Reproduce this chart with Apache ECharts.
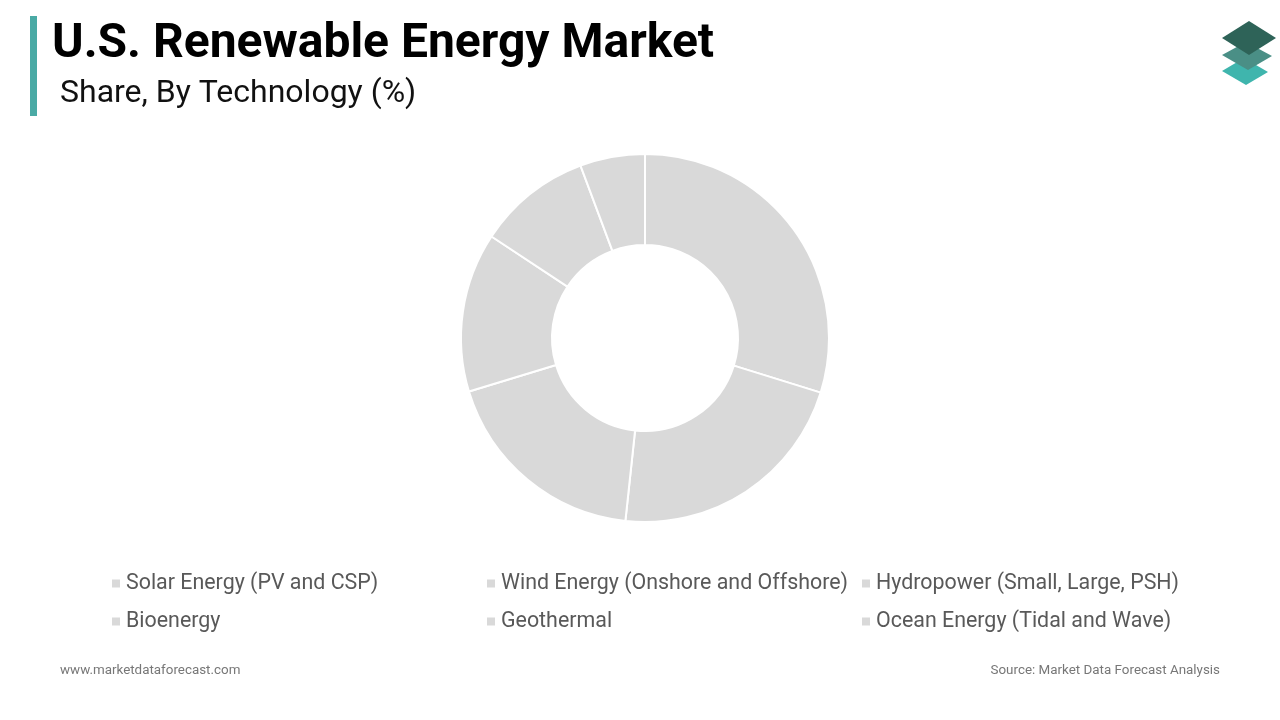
<!DOCTYPE html>
<html>
<head>
<meta charset="utf-8">
<script src="https://cdn.jsdelivr.net/npm/echarts@6/dist/echarts.min.js"></script>
<style>
  html, body { margin: 0; padding: 0; background: #fff; }
  #box { width: 1280px; height: 720px; }
</style>
</head>
<body>
<div id="box"></div>
<script>
// categories and share values (%)
var categories = [
  'Solar Energy (PV and CSP)',
  'Wind Energy (Onshore and Offshore)',
  'Hydropower (Small, Large, PSH)',
  'Bioenergy',
  'Geothermal',
  'Ocean Energy (Tidal and Wave)'
];
var shares = [29.8, 21.9, 18.6, 14.0, 10.0, 5.7];

var sliceColor = '#d9d9d9';

var myChart = echarts.init(document.getElementById('box'));

var pieData = categories.map(function (name, i) {
  return { name: name, value: shares[i] };
});

// legend columns: each column holds two items
function legendCol(left, names) {
  return {
    left: left,
    top: 568,
    orient: 'vertical',
    itemWidth: 10,
    itemHeight: 10,
    itemGap: 17,
    icon: 'rect',
    selectedMode: false,
    data: names,
    textStyle: { fontFamily: 'Roboto', fontSize: 21.4, color: '#595959' }
  };
}

var option = {
  color: [sliceColor],
  animation: false,
  legend: [
    legendCol(105, [categories[0], categories[3]]),
    legendCol(480, [categories[1], categories[4]]),
    legendCol(855, [categories[2], categories[5]])
  ],
  graphic: [
    { type: 'rect', shape: { x: 30, y: 16, width: 7, height: 100 }, style: { fill: '#4aaaa5' } },
    { type: 'text', left: 52, top: 21, style: { text: 'U.S. Renewable Energy Market', font: 'bold 48px Roboto', fill: '#000' } },
    { type: 'text', left: 60, top: 78, style: { text: 'Share, By Technology (%)', font: '32px Roboto', fill: '#111' } },
    { type: 'text', left: 60, top: 664, style: { text: 'www.marketdataforecast.com', font: '13.4px Roboto', fill: '#777' } },
    { type: 'text', right: 60, top: 664, style: { text: 'Source: Market Data Forecast Analysis', font: '13.4px Roboto', fill: '#777' } },
    // logo: three stacked plates
    { type: 'polygon', shape: { points: [[1222, 71], [1244, 58], [1268, 72], [1246, 85]] }, style: { fill: '#3fb5ad' } },
    { type: 'polygon', shape: { points: [[1222, 55], [1246, 42], [1272, 56], [1248, 70]] }, style: { fill: '#4a8f86' } },
    { type: 'polygon', shape: { points: [[1222, 38], [1249, 21], [1276, 38], [1249, 55]] }, style: { fill: '#2e6358' } }
  ],
  series: [{
    type: 'pie',
    center: [645, 338],
    radius: [93, 184],
    startAngle: 90,
    clockwise: true,
    label: { show: false },
    labelLine: { show: false },
    itemStyle: { color: sliceColor, borderColor: '#fff', borderWidth: 2 },
    emphasis: { disabled: true },
    data: pieData
  }]
};

myChart.setOption(option);
</script>
</body>
</html>
